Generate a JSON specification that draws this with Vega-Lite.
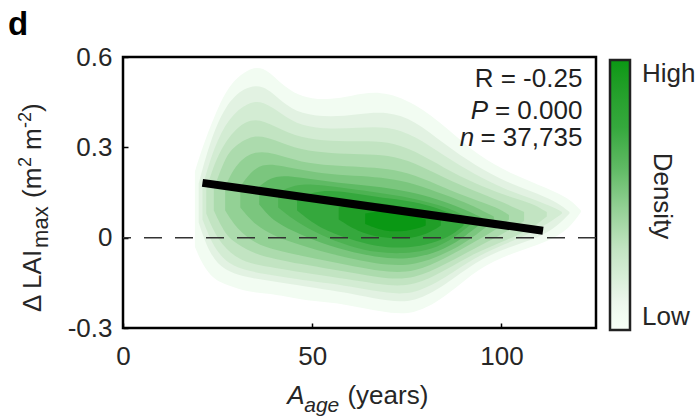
{
"$schema":"https://vega.github.io/schema/vega-lite/v6.json",
"width":473,"height":271,
"autosize":{"type":"none"},
"padding":{"left":123,"top":57,"right":104,"bottom":88},
"background":"#ffffff",
"config":{
  "font":"Liberation Sans",
  "view":{"stroke":"#000000","strokeWidth":2.5},
  "axis":{"domain":false,"grid":false,"ticks":true,"tickSize":-5,"tickColor":"#000000","tickWidth":1.5,"labelFlush":false,"labelFont":"Liberation Sans","labelFontSize":26,"labelColor":"#262626","titleFont":"Liberation Sans","titleFontSize":26,"titleFontWeight":"normal","titleColor":"#262626"},
  "text":{"font":"Liberation Sans","color":"#1f1f1f","baseline":"alphabetic"}
},
"layer":[
{
 "data":{"values":[
  {"d":0.05,"age":19,"lo":-0.03,"hi":0.22},{"d":0.05,"age":21,"lo":-0.09,"hi":0.30},{"d":0.05,"age":24,"lo":-0.14,"hi":0.40},{"d":0.05,"age":28,"lo":-0.16,"hi":0.51},{"d":0.05,"age":33,"lo":-0.18,"hi":0.56},{"d":0.05,"age":37,"lo":-0.185,"hi":0.57},{"d":0.05,"age":41,"lo":-0.19,"hi":0.52},{"d":0.05,"age":45,"lo":-0.2,"hi":0.48},{"d":0.05,"age":50,"lo":-0.21,"hi":0.46},{"d":0.05,"age":55,"lo":-0.215,"hi":0.46},{"d":0.05,"age":60,"lo":-0.225,"hi":0.47},{"d":0.05,"age":68,"lo":-0.245,"hi":0.49},{"d":0.05,"age":77,"lo":-0.26,"hi":0.45},{"d":0.05,"age":86,"lo":-0.19,"hi":0.36},{"d":0.05,"age":94,"lo":-0.1,"hi":0.27},{"d":0.05,"age":103,"lo":-0.05,"hi":0.21},{"d":0.05,"age":112,"lo":-0.015,"hi":0.165},{"d":0.05,"age":118,"lo":0.03,"hi":0.13},{"d":0.05,"age":121,"lo":0.085,"hi":0.09},
  {"d":0.15,"age":20,"lo":0.05,"hi":0.18},{"d":0.15,"age":23,"lo":-0.06,"hi":0.32},{"d":0.15,"age":27,"lo":-0.11,"hi":0.44},{"d":0.15,"age":32,"lo":-0.13,"hi":0.5},{"d":0.15,"age":37,"lo":-0.14,"hi":0.51},{"d":0.15,"age":42,"lo":-0.15,"hi":0.45},{"d":0.15,"age":47,"lo":-0.16,"hi":0.41},{"d":0.15,"age":55,"lo":-0.175,"hi":0.4},{"d":0.15,"age":62,"lo":-0.19,"hi":0.41},{"d":0.15,"age":70,"lo":-0.21,"hi":0.42},{"d":0.15,"age":77,"lo":-0.215,"hi":0.39},{"d":0.15,"age":85,"lo":-0.16,"hi":0.31},{"d":0.15,"age":93,"lo":-0.08,"hi":0.24},{"d":0.15,"age":102,"lo":-0.03,"hi":0.18},{"d":0.15,"age":110,"lo":0.0,"hi":0.145},{"d":0.15,"age":115,"lo":0.04,"hi":0.115},{"d":0.15,"age":118,"lo":0.08,"hi":0.085},
  {"d":0.22,"age":21,"lo":0.06,"hi":0.17},{"d":0.22,"age":24,"lo":-0.035,"hi":0.3},{"d":0.22,"age":28,"lo":-0.09,"hi":0.4},{"d":0.22,"age":33,"lo":-0.11,"hi":0.45},{"d":0.22,"age":37,"lo":-0.12,"hi":0.455},{"d":0.22,"age":42,"lo":-0.13,"hi":0.41},{"d":0.22,"age":47,"lo":-0.14,"hi":0.37},{"d":0.22,"age":55,"lo":-0.152,"hi":0.36},{"d":0.22,"age":62,"lo":-0.167,"hi":0.365},{"d":0.22,"age":70,"lo":-0.185,"hi":0.37},{"d":0.22,"age":77,"lo":-0.188,"hi":0.34},{"d":0.22,"age":85,"lo":-0.135,"hi":0.27},{"d":0.22,"age":93,"lo":-0.065,"hi":0.21},{"d":0.22,"age":101,"lo":-0.02,"hi":0.16},{"d":0.22,"age":108,"lo":0.015,"hi":0.13},{"d":0.22,"age":114,"lo":0.06,"hi":0.1},{"d":0.22,"age":116,"lo":0.08,"hi":0.085},
  {"d":0.3,"age":22,"lo":0.08,"hi":0.16},{"d":0.3,"age":25,"lo":-0.01,"hi":0.28},{"d":0.3,"age":30,"lo":-0.07,"hi":0.37},{"d":0.3,"age":35,"lo":-0.09,"hi":0.4},{"d":0.3,"age":40,"lo":-0.1,"hi":0.37},{"d":0.3,"age":47,"lo":-0.115,"hi":0.33},{"d":0.3,"age":55,"lo":-0.13,"hi":0.32},{"d":0.3,"age":63,"lo":-0.145,"hi":0.32},{"d":0.3,"age":70,"lo":-0.16,"hi":0.32},{"d":0.3,"age":77,"lo":-0.16,"hi":0.29},{"d":0.3,"age":85,"lo":-0.11,"hi":0.23},{"d":0.3,"age":93,"lo":-0.05,"hi":0.18},{"d":0.3,"age":101,"lo":-0.01,"hi":0.14},{"d":0.3,"age":108,"lo":0.03,"hi":0.115},{"d":0.3,"age":112,"lo":0.07,"hi":0.085},
  {"d":0.37,"age":24,"lo":0.09,"hi":0.16},{"d":0.37,"age":27,"lo":0.01,"hi":0.27},{"d":0.37,"age":30,"lo":-0.02,"hi":0.31},{"d":0.37,"age":35,"lo":-0.055,"hi":0.345},{"d":0.37,"age":40,"lo":-0.07,"hi":0.325},{"d":0.37,"age":47,"lo":-0.088,"hi":0.29},{"d":0.37,"age":55,"lo":-0.105,"hi":0.28},{"d":0.37,"age":63,"lo":-0.122,"hi":0.277},{"d":0.37,"age":70,"lo":-0.137,"hi":0.275},{"d":0.37,"age":77,"lo":-0.137,"hi":0.25},{"d":0.37,"age":85,"lo":-0.09,"hi":0.197},{"d":0.37,"age":93,"lo":-0.035,"hi":0.155},{"d":0.37,"age":100,"lo":0.01,"hi":0.12},{"d":0.37,"age":106,"lo":0.055,"hi":0.085},
  {"d":0.45,"age":27,"lo":0.09,"hi":0.17},{"d":0.45,"age":30,"lo":0.03,"hi":0.25},{"d":0.45,"age":35,"lo":-0.02,"hi":0.29},{"d":0.45,"age":40,"lo":-0.04,"hi":0.28},{"d":0.45,"age":47,"lo":-0.06,"hi":0.25},{"d":0.45,"age":55,"lo":-0.08,"hi":0.24},{"d":0.45,"age":63,"lo":-0.1,"hi":0.235},{"d":0.45,"age":70,"lo":-0.115,"hi":0.23},{"d":0.45,"age":77,"lo":-0.115,"hi":0.21},{"d":0.45,"age":85,"lo":-0.07,"hi":0.165},{"d":0.45,"age":92,"lo":-0.02,"hi":0.13},{"d":0.45,"age":99,"lo":0.03,"hi":0.1},{"d":0.45,"age":102,"lo":0.06,"hi":0.075},
  {"d":0.52,"age":31,"lo":0.1,"hi":0.17},{"d":0.52,"age":35,"lo":0.04,"hi":0.24},{"d":0.52,"age":40,"lo":0.005,"hi":0.245},{"d":0.52,"age":47,"lo":-0.025,"hi":0.225},{"d":0.52,"age":55,"lo":-0.055,"hi":0.21},{"d":0.52,"age":63,"lo":-0.077,"hi":0.205},{"d":0.52,"age":70,"lo":-0.092,"hi":0.197},{"d":0.52,"age":77,"lo":-0.092,"hi":0.18},{"d":0.52,"age":85,"lo":-0.055,"hi":0.142},{"d":0.52,"age":92,"lo":-0.005,"hi":0.11},{"d":0.52,"age":98,"lo":0.055,"hi":0.07},
  {"d":0.6,"age":36,"lo":0.11,"hi":0.17},{"d":0.6,"age":40,"lo":0.05,"hi":0.21},{"d":0.6,"age":47,"lo":0.01,"hi":0.2},{"d":0.6,"age":55,"lo":-0.03,"hi":0.185},{"d":0.6,"age":63,"lo":-0.055,"hi":0.175},{"d":0.6,"age":70,"lo":-0.07,"hi":0.165},{"d":0.6,"age":77,"lo":-0.07,"hi":0.15},{"d":0.6,"age":85,"lo":-0.04,"hi":0.12},{"d":0.6,"age":91,"lo":0.01,"hi":0.09},{"d":0.6,"age":95,"lo":0.05,"hi":0.065},
  {"d":0.67,"age":41,"lo":0.1,"hi":0.15},{"d":0.67,"age":46,"lo":0.05,"hi":0.18},{"d":0.67,"age":52,"lo":0.01,"hi":0.175},{"d":0.67,"age":60,"lo":-0.03,"hi":0.162},{"d":0.67,"age":67,"lo":-0.05,"hi":0.15},{"d":0.67,"age":74,"lo":-0.053,"hi":0.137},{"d":0.67,"age":80,"lo":-0.045,"hi":0.12},{"d":0.67,"age":86,"lo":-0.015,"hi":0.1},{"d":0.67,"age":92,"lo":0.045,"hi":0.062},
  {"d":0.75,"age":46,"lo":0.09,"hi":0.13},{"d":0.75,"age":52,"lo":0.03,"hi":0.16},{"d":0.75,"age":60,"lo":-0.005,"hi":0.15},{"d":0.75,"age":67,"lo":-0.03,"hi":0.135},{"d":0.75,"age":74,"lo":-0.035,"hi":0.125},{"d":0.75,"age":80,"lo":-0.025,"hi":0.11},{"d":0.75,"age":86,"lo":0.0,"hi":0.085},{"d":0.75,"age":90,"lo":0.04,"hi":0.06},
  {"d":0.9,"age":57,"lo":0.06,"hi":0.1},{"d":0.9,"age":62,"lo":0.02,"hi":0.12},{"d":0.9,"age":68,"lo":0.0,"hi":0.115},{"d":0.9,"age":75,"lo":-0.005,"hi":0.1},{"d":0.9,"age":80,"lo":0.01,"hi":0.085},{"d":0.9,"age":84,"lo":0.04,"hi":0.06},
  {"d":1.0,"age":64,"lo":0.045,"hi":0.08},{"d":1.0,"age":69,"lo":0.02,"hi":0.09},{"d":1.0,"age":75,"lo":0.02,"hi":0.08},{"d":1.0,"age":80,"lo":0.04,"hi":0.06}
 ]},
 "mark":{"type":"area","interpolate":"basis"},
 "encoding":{
  "x":{"field":"age","type":"quantitative","scale":{"domain":[0,125],"nice":false,"zero":false},"axis":{"values":[0,50,100],"title":null,"labelPadding":20,"labelAngle":0}},
  "y":{"field":"lo","type":"quantitative","scale":{"domain":[-0.3,0.6],"nice":false,"zero":false},"axis":{"values":[-0.3,0,0.3,0.6],"labelPadding":16,"labelExpr":"datum.value == 0 ? '0' : (datum.value < 0 ? '-' : '') + format(abs(datum.value), '.1f')","title":null}},
  "y2":{"field":"hi"},
  "detail":{"field":"d","type":"quantitative"},
  "color":{"field":"d","type":"quantitative",
    "scale":{"domain":[0,0.1,0.3,0.45,0.6,0.75,1],"range":["#ffffff","#edf7ed","#c2e4c2","#93d195","#5fba64","#35a83d","#0a9814"]},
    "legend":{"orient":"none","legendX":487,"legendY":3,"direction":"vertical","padding":0,"gradientLength":270,"gradientThickness":20,"gradientStrokeColor":"#222222","gradientStrokeWidth":2.5,"values":[0.05,0.95],"labelExpr":"datum.value > 0.5 ? 'High' : 'Low'","labelFont":"Liberation Sans","labelFontSize":26,"labelColor":"#262626","labelOffset":12,"title":"Density","titleOrient":"right","titleAnchor":"middle","titlePadding":-46,"titleFont":"Liberation Sans","titleFontSize":26,"titleFontWeight":"normal","titleColor":"#262626"}}
 }
},
{"data":{"values":[{}]},"mark":{"type":"rule","strokeDash":[18,13],"color":"#333333","strokeWidth":1.5},"encoding":{"y":{"datum":0}}},
{
 "data":{"values":[{"age":21,"fit":0.182},{"age":111,"fit":0.023}]},
 "mark":{"type":"line","color":"#000000","strokeWidth":8,"strokeCap":"butt"},
 "encoding":{"x":{"field":"age","type":"quantitative"},"y":{"field":"fit","type":"quantitative"}}
},
{"data":{"values":[{}]},"mark":{"type":"text","align":"right","fontSize":26},"encoding":{"x":{"datum":121.4},"y":{"datum":0.5},"text":{"value":"R = -0.25"}}},
{"data":{"values":[{}]},"mark":{"type":"text","align":"right","fontSize":26},"encoding":{"x":{"datum":121.4},"y":{"datum":0.394},"text":{"value":"= 0.000"}}},
{"data":{"values":[{}]},"mark":{"type":"text","align":"right","fontSize":26,"fontStyle":"italic"},"encoding":{"x":{"datum":96.5},"y":{"datum":0.394},"text":{"value":"P"}}},
{"data":{"values":[{}]},"mark":{"type":"text","align":"right","fontSize":26},"encoding":{"x":{"datum":121.4},"y":{"datum":0.304},"text":{"value":"= 37,735"}}},
{"data":{"values":[{}]},"mark":{"type":"text","align":"right","fontSize":26,"fontStyle":"italic"},"encoding":{"x":{"datum":92.8},"y":{"datum":0.304},"text":{"value":"n"}}},
{"data":{"values":[{}]},"mark":{"type":"text","align":"left","fontSize":26,"fontStyle":"italic","color":"#262626"},"encoding":{"x":{"datum":43.4},"y":{"datum":-0.552},"text":{"value":"A"}}},
{"data":{"values":[{}]},"mark":{"type":"text","align":"left","fontSize":21,"fontStyle":"italic","color":"#262626"},"encoding":{"x":{"datum":47.9},"y":{"datum":-0.579},"text":{"value":"age"}}},
{"data":{"values":[{}]},"mark":{"type":"text","align":"left","fontSize":26,"color":"#262626"},"encoding":{"x":{"datum":59.3},"y":{"datum":-0.552},"text":{"value":"(years)"}}},
{"data":{"values":[{}]},"mark":{"type":"text","align":"left","angle":270,"fontSize":26,"color":"#262626"},"encoding":{"x":{"datum":-21.7},"y":{"datum":-0.247},"text":{"value":"Δ LAI"}}},
{"data":{"values":[{}]},"mark":{"type":"text","align":"left","angle":270,"fontSize":22,"color":"#262626"},"encoding":{"x":{"datum":-19.8},"y":{"datum":-0.034},"text":{"value":"max"}}},
{"data":{"values":[{}]},"mark":{"type":"text","align":"left","angle":270,"fontSize":26,"color":"#262626"},"encoding":{"x":{"datum":-21.7},"y":{"datum":0.132},"text":{"value":"(m"}}},
{"data":{"values":[{}]},"mark":{"type":"text","align":"left","angle":270,"fontSize":18,"color":"#262626"},"encoding":{"x":{"datum":-24.3},"y":{"datum":0.235},"text":{"value":"2"}}},
{"data":{"values":[{}]},"mark":{"type":"text","align":"left","angle":270,"fontSize":26,"color":"#262626"},"encoding":{"x":{"datum":-21.7},"y":{"datum":0.291},"text":{"value":"m"}}},
{"data":{"values":[{}]},"mark":{"type":"text","align":"left","angle":270,"fontSize":18,"color":"#262626"},"encoding":{"x":{"datum":-24.3},"y":{"datum":0.364},"text":{"value":"-2"}}},
{"data":{"values":[{}]},"mark":{"type":"text","align":"left","angle":270,"fontSize":26,"color":"#262626"},"encoding":{"x":{"datum":-21.7},"y":{"datum":0.417},"text":{"value":")"}}},
{"data":{"values":[{}]},"mark":{"type":"text","align":"left","fontSize":33,"fontWeight":"bold","color":"#000000"},"encoding":{"x":{"datum":-30.4},"y":{"datum":0.673},"text":{"value":"d"}}}
]
}
